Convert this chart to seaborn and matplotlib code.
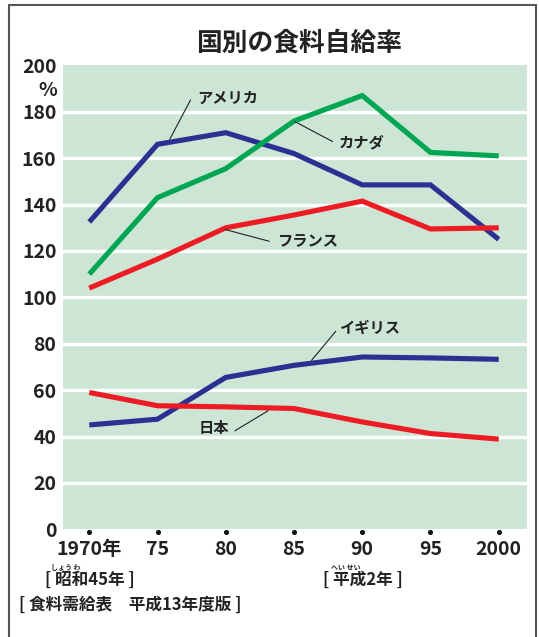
import numpy as np
import pandas as pd
import matplotlib.pyplot as plt
import matplotlib.transforms as mtransforms
from matplotlib.lines import Line2D
import seaborn as sns

# data (%)
years = [1970, 1975, 1980, 1985, 1990, 1995, 2000]
year_labels = ['1970年', '75', '80', '85', '90', '95', '2000']
usa = [132.5, 166, 171, 162, 148.5, 148.5, 125]
canada = [110, 143, 155.5, 176, 187, 162.5, 161]
france = [104, 116.5, 130, 135.5, 141.5, 129.5, 130]
uk = [45, 47.5, 65.5, 70.7, 74.3, 73.9, 73.3]
japan = [59, 53.3, 52.8, 52.1, 46.3, 41.3, 38.9]
countries = ['アメリカ', 'カナダ', 'フランス', 'イギリス', '日本']
y_ticks = list(range(0, 201, 20))

navy = '#2B3192'
green = '#00A651'
red = '#ED1C24'
bg = '#CCE5D4'

sns.set_theme(style='white')
plt.rcParams['font.family'] = ['Noto Sans CJK JP', 'DejaVu Sans']
plt.rcParams['font.weight'] = 'bold'

df = pd.DataFrame({
    'year': years * 5,
    'rate': usa + canada + france + uk + japan,
    'country': [c for c in countries for _ in years],
})
palette = {'アメリカ': navy, 'カナダ': green, 'フランス': red,
           'イギリス': navy, '日本': red}

fig = plt.figure(figsize=(5.39, 6.37), dpi=100)
ax = fig.add_axes([0.1175, 0.169, 0.8597, 0.7283])
ax.set_facecolor(bg)

sns.lineplot(data=df, x='year', y='rate', hue='country', palette=palette,
             lw=3.7, legend=False, ax=ax, solid_joinstyle='miter',
             solid_capstyle='butt', zorder=3)

ax.set_xlim(1968.1, 2002.05)
ax.set_ylim(0, 200)
ax.set_yticks(y_ticks)
ax.set_yticklabels([str(v) for v in y_ticks], fontsize=14, fontweight='bold')
ax.set_xticks(years)
ax.set_xticklabels(year_labels, fontsize=14, fontweight='bold')
ax.tick_params(axis='y', length=0, pad=5, colors='#222222')
ax.tick_params(axis='x', length=0, pad=8, colors='#222222')
ax.set_xlabel('')
ax.set_ylabel('')
for s in ax.spines.values():
    s.set_visible(False)

# white gridlines between 0 and 200
for v in y_ticks[1:-1]:
    ax.axhline(v, color='white', lw=2.4, zorder=1)

# small dots at the x ticks
ax.scatter(years, [-1.3] * len(years), s=7, color='#111111', clip_on=False, zorder=5)

# % unit label under 200
trans = mtransforms.blended_transform_factory(ax.transAxes, ax.transData)
ax.text(-0.013, 189, '%', transform=trans, ha='right', va='center',
        fontsize=14, fontweight='bold', color='#222222')

# country labels with leader lines
labels = [
    ('アメリカ', (1977.9, 186.2), [(1975.9, 168.2), (1977.42, 185.1)]),
    ('カナダ', (1988.3, 167.0), [(1985.06, 175.8), (1987.82, 167.2)]),
    ('フランス', (1983.72, 124.2), [(1979.93, 129.3), (1983.18, 124.2)]),
    ('イギリス', (1988.3, 86.8), [(1986.28, 72.8), (1988.06, 85.4)]),
    ('日本', (1977.98, 43.9), [(1980.67, 42.5), (1983.1, 51.1)]),
]
for name, (tx, ty), pts in labels:
    ax.text(tx, ty, name, ha='left', va='center', fontsize=11,
            fontweight='bold', color='#222222', zorder=6)
    ax.plot([p[0] for p in pts], [p[1] for p in pts], color='#222222',
            lw=0.8, zorder=6)

# title
fig.text(299 / 539, 1 - 43 / 637, '国別の食料自給率', ha='center', va='center',
         fontsize=18.5, fontweight='bold', color='#222222')

# notes under the axis
fig.text(45 / 539, 1 - 580 / 637, '[ 昭和45年 ]', ha='left', va='center',
         fontsize=12, fontweight='bold', color='#222222')
fig.text(66 / 539, 1 - 567 / 637, 'しょう わ', ha='center', va='center',
         fontsize=5, color='#222222')
fig.text(323 / 539, 1 - 580 / 637, '[ 平成2年 ]', ha='left', va='center',
         fontsize=12, fontweight='bold', color='#222222')
fig.text(346 / 539, 1 - 567 / 637, 'へい せい', ha='center', va='center',
         fontsize=5, color='#222222')
fig.text(19 / 539, 1 - 605 / 637, '[ 食料需給表\u3000平成13年度版 ]', ha='left',
         va='center', fontsize=12, fontweight='bold', color='#222222')

# frame (open at the bottom)
frame = dict(color='#555555', lw=1.5, transform=fig.transFigure)
fig.add_artist(Line2D([9 / 539, 9 / 539], [0, 1 - 5 / 637], **frame))
fig.add_artist(Line2D([536 / 539, 536 / 539], [0, 1 - 5 / 637], **frame))
fig.add_artist(Line2D([9 / 539, 536 / 539], [1 - 5 / 637, 1 - 5 / 637], **frame))

fig.savefig('out.png', dpi=100)
